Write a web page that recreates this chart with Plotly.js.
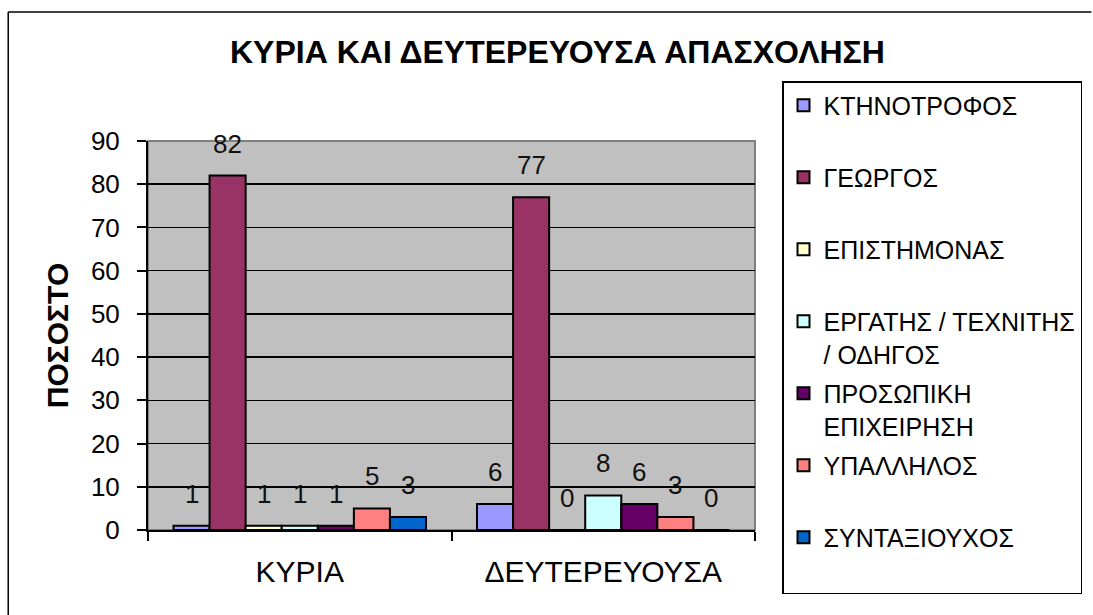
<!DOCTYPE html>
<html>
<head>
<meta charset="utf-8">
<script src="https://cdn.plot.ly/plotly-3.0.1.min.js"></script>
<style>html,body{margin:0;padding:0;background:#fff;overflow:hidden;}#chart{width:1093px;height:615px;}</style>
</head>
<body>
<div id="chart"></div>
<script>
const categories = ['ΚΥΡΙΑ', 'ΔΕΥΤΕΡΕΥΟΥΣΑ'];
const seriesNames = ['ΚΤΗΝΟΤΡΟΦΟΣ', 'ΓΕΩΡΓΟΣ', 'ΕΠΙΣΤΗΜΟΝΑΣ', 'ΕΡΓΑΤΗΣ / ΤΕΧΝΙΤΗΣ<br>/ ΟΔΗΓΟΣ', 'ΠΡΟΣΩΠΙΚΗ<br>ΕΠΙΧΕΙΡΗΣΗ', 'ΥΠΑΛΛΗΛΟΣ', 'ΣΥΝΤΑΞΙΟΥΧΟΣ'];
const ktinotrofos = [1, 6];
const georgos = [82, 77];
const epistimonas = [1, 0];
const ergatis = [1, 8];
const prosopiki = [1, 6];
const ypallilos = [5, 3];
const syntaxiouxos = [3, 0];
const seriesColors = ['#9999FF', '#993366', '#FFFFCC', '#CCFFFF', '#660066', '#FF8080', '#0066CC'];
const yTicks = [0, 10, 20, 30, 40, 50, 60, 70, 80, 90];

const seriesValues = [ktinotrofos, georgos, epistimonas, ergatis, prosopiki, ypallilos, syntaxiouxos];
const FONT = 'Liberation Sans, Arial, sans-serif';
const bargap = 0.168;
const nS = seriesValues.length;
const w = (1 - bargap) / nS;

const traces = seriesValues.map((vals, i) => ({
  type: 'bar',
  name: seriesNames[i].indexOf('<br>') >= 0 ? seriesNames[i] : seriesNames[i] + '<br>&nbsp;',
  x: categories,
  y: vals,
  legendgroup: 'g' + i,
  marker: {color: seriesColors[i], line: {color: '#000', width: 2}},
  hoverinfo: 'x+y'
}));

const annotations = [];
seriesValues.forEach((vals, i) => {
  vals.forEach((v, c) => {
    annotations.push({
      x: c + (i - (nS - 1) / 2) * w,
      y: v,
      xref: 'x', yref: 'y',
      text: String(v),
      showarrow: false,
      yanchor: 'middle',
      yshift: 32,
      font: {family: FONT, size: 26, color: '#111'}
    });
  });
});

const bx0 = (8 - 148) / 608;
const bx1 = (1093 - 148) / 608;
const by0 = (530 - 615) / 389;
const by1 = (530 - 12) / 389;

const layout = {
  width: 1093, height: 615,
  margin: {l: 148, r: 337, t: 141, b: 85},
  paper_bgcolor: '#fff',
  plot_bgcolor: '#C0C0C0',
  barmode: 'group',
  bargap: bargap,
  bargroupgap: 0,
  font: {family: FONT, color: '#000'},
  title: {
    text: 'ΚΥΡΙΑ ΚΑΙ ΔΕΥΤΕΡΕΥΟΥΣΑ ΑΠΑΣΧΟΛΗΣΗ',
    font: {family: FONT, size: 32, color: '#000', weight: 'bold'},
    xref: 'container', yref: 'container',
    x: 0.51, xanchor: 'center',
    y: 1 - 52 / 615, yanchor: 'middle'
  },
  xaxis: {
    type: 'category',
    showline: true, linecolor: '#000', linewidth: 2,
    ticks: 'outside', tickson: 'boundaries', ticklen: 9, tickcolor: '#000', tickwidth: 2,
    tickfont: {family: FONT, size: 30, color: '#000'},
    ticklabelstandoff: 14,
    showgrid: false, zeroline: false, fixedrange: true
  },
  yaxis: {
    range: [0, 90],
    tickvals: yTicks,
    ticktext: yTicks.map(String),
    showline: true, linecolor: '#000', linewidth: 2,
    ticks: 'outside', ticklen: 9, tickcolor: '#000', tickwidth: 2,
    tickfont: {family: FONT, size: 26, color: '#000'},
    ticklabelstandoff: 12,
    showgrid: true, gridcolor: '#000', gridwidth: 1.5,
    zeroline: false,
    title: {text: 'ΠΟΣΟΣΤΟ', font: {family: FONT, size: 30, color: '#000', weight: 'bold'}, standoff: 13},
    automargin: false, fixedrange: true
  },
  legend: {
    x: (782 - 148) / 608, xanchor: 'left',
    y: (530 - 81) / 389, yanchor: 'top',
    bordercolor: '#000', borderwidth: 1.5,
    bgcolor: '#fff',
    font: {family: FONT, size: 25, color: '#000'},
    traceorder: 'grouped', tracegroupgap: 4,
    valign: 'top',
    maxheight: 600
  },
  annotations: annotations,
  shapes: [
    {type: 'rect', xref: 'paper', yref: 'paper', x0: 0, x1: 1, y0: 0, y1: 1,
     line: {color: '#808080', width: 2}, layer: 'below'},
    {type: 'line', xref: 'paper', yref: 'paper', x0: bx0, x1: bx0, y0: by0, y1: by1,
     line: {color: '#000', width: 1.5}, layer: 'above'},
    {type: 'line', xref: 'paper', yref: 'paper', x0: bx0, x1: bx1, y0: by1, y1: by1,
     line: {color: '#000', width: 1.5}, layer: 'above'}
  ],
  showlegend: true
};

Plotly.newPlot('chart', traces, layout, {displayModeBar: false, staticPlot: true});
</script>
</body>
</html>
